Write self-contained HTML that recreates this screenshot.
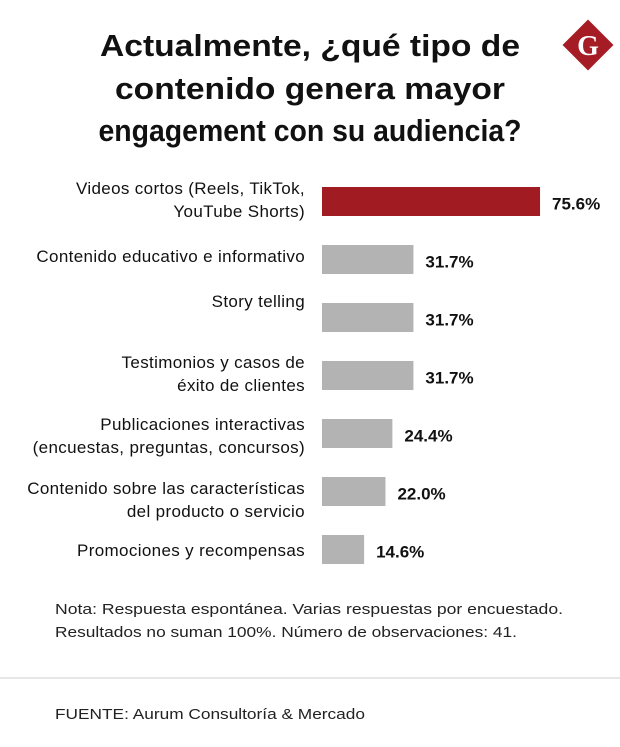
<!DOCTYPE html>
<html><head><meta charset="utf-8"><style>
html,body{margin:0;padding:0;background:#fff;}
svg{display:block;font-family:"Liberation Sans",sans-serif;}
</style></head><body>
<svg id="chart" width="620" height="747" viewBox="0 0 620 747">
  <g font-weight="bold" font-size="31" fill="#111" text-anchor="middle">
    <text x="310" y="56" textLength="420" lengthAdjust="spacingAndGlyphs">Actualmente, ¿qué tipo de</text>
    <text x="310" y="99" textLength="390" lengthAdjust="spacingAndGlyphs">contenido genera mayor</text>
    <text x="310" y="141" textLength="423" lengthAdjust="spacingAndGlyphs">engagement con su audiencia?</text>
  </g>
  <g>
    <rect x="570" y="27" width="36" height="36" fill="#a51c24" transform="rotate(45 588 45)"/>
    <text x="588" y="55" text-anchor="middle" font-family="Liberation Serif,serif" font-weight="bold" font-size="28" fill="#fff">G</text>
  </g>
  <g id="bars"></g>
  <g font-size="15" fill="#222">
    <text x="55" y="614" textLength="508" lengthAdjust="spacingAndGlyphs">Nota: Respuesta espontánea. Varias respuestas por encuestado.</text>
    <text x="55" y="637" textLength="462" lengthAdjust="spacingAndGlyphs">Resultados no suman 100%. Número de observaciones: 41.</text>
  </g>
  <line x1="0" y1="678" x2="620" y2="678" stroke="#ccc" stroke-width="1"/>
  <text x="55" y="719" font-size="15" fill="#222" textLength="310" lengthAdjust="spacingAndGlyphs">FUENTE: Aurum Consultoría &amp; Mercado</text>
</svg>
<script>
const categories = [
  ["Videos cortos (Reels, TikTok,", "YouTube Shorts)"],
  ["Contenido educativo e informativo"],
  ["Story telling"],
  ["Testimonios y casos de", "éxito de clientes"],
  ["Publicaciones interactivas", "(encuestas, preguntas, concursos)"],
  ["Contenido sobre las características", "del producto o servicio"],
  ["Promociones y recompensas"]
];
const values = [75.6, 31.7, 31.7, 31.7, 24.4, 22.0, 14.6];
const valueLabels = ["75.6%", "31.7%", "31.7%", "31.7%", "24.4%", "22.0%", "14.6%"];

const NS = "http://www.w3.org/2000/svg";
const x0 = 322, pxPer = 2.884;
const barTop0 = 187, step = 58, barH = 29;
const labelFirstOffset = [7, 17, 4, 7, 11, 17, 21];
function xScale(v){ return x0 + v * pxPer; }
function yScale(i){ return barTop0 + i * step; }
const g = document.getElementById("bars");
values.forEach((v, i) => {
  const y = yScale(i);
  const r = document.createElementNS(NS, "rect");
  r.setAttribute("x", x0); r.setAttribute("y", y);
  r.setAttribute("width", xScale(v) - x0); r.setAttribute("height", barH);
  r.setAttribute("fill", i === 0 ? "#a01b22" : "#b3b3b3");
  
  
  g.appendChild(r);
  const t = document.createElementNS(NS, "text");
  t.setAttribute("x", xScale(v) + 12); t.setAttribute("y", y + barH / 2 + 8);
  t.setAttribute("font-weight", "bold"); t.setAttribute("font-size", "17"); t.setAttribute("fill", "#111");
  t.textContent = valueLabels[i];
  
  
  g.appendChild(t);
  categories[i].forEach((line, j) => {
    const l = document.createElementNS(NS, "text");
    l.setAttribute("x", 305);
    l.setAttribute("y", y + labelFirstOffset[i] + j * 23);
    l.setAttribute("text-anchor", "end");
    l.setAttribute("font-size", "17"); l.setAttribute("fill", "#111");
    l.setAttribute("letter-spacing", "0.35");
    l.textContent = line;
    
    
    g.appendChild(l);
  });
});
</script>
</body></html>
